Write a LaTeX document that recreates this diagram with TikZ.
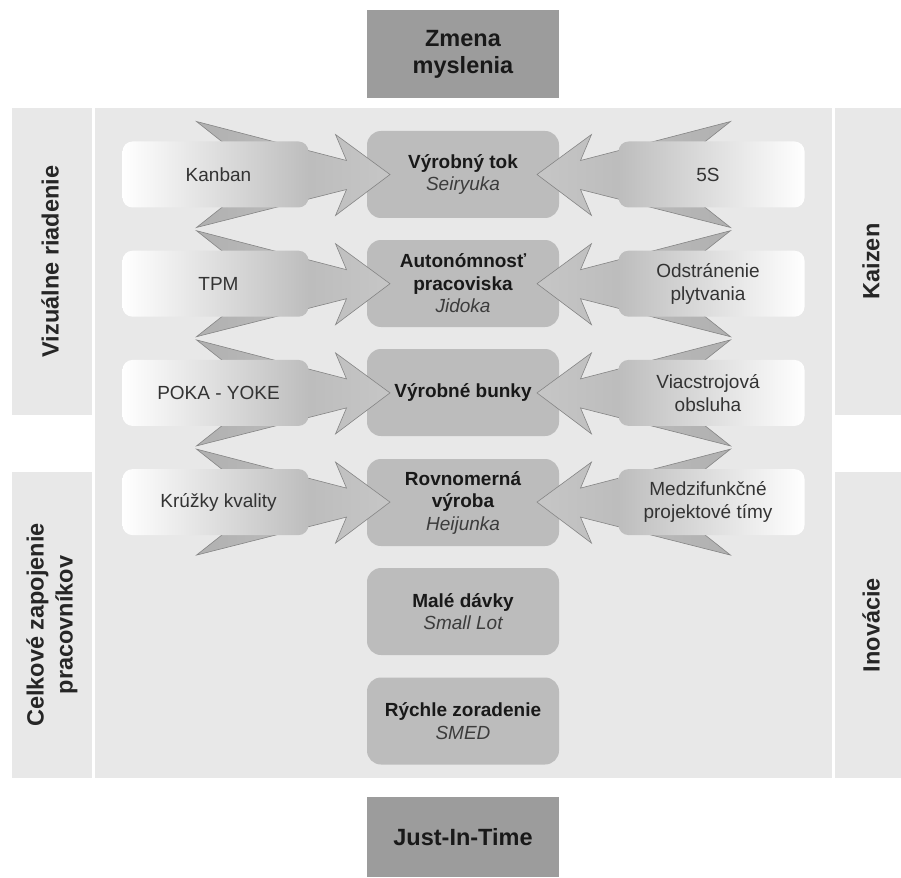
\documentclass[tikz,border=0pt]{standalone}
\usepackage{fontspec}
\setmainfont{Liberation Sans}
\definecolor{panel}{HTML}{E8E8E8}
\definecolor{darkfill}{HTML}{9C9C9C}
\definecolor{midfill}{HTML}{BCBCBC}
\definecolor{arrL}{HTML}{B0B0B0}
\definecolor{arrR}{HTML}{C6C6C6}
\definecolor{boxR}{HTML}{BDBDBD}
\definecolor{edgecol}{HTML}{858585}
\definecolor{txt}{HTML}{333333}
\definecolor{ittxt}{HTML}{3C3C3C}
\begin{document}
\begin{tikzpicture}[x=1pt,y=-1pt,
  darkbox/.style={fill=darkfill,draw=none,minimum width=192pt,inner sep=0pt,align=center,
    font=\fontsize{23.5}{27}\selectfont\bfseries,text=black!90},
  cbox/.style={fill=midfill,draw=none,rounded corners=14pt,minimum width=192pt,minimum height=87pt,
    inner sep=0pt,align=center,font=\fontsize{19}{22.5}\selectfont,text=black!90},
  lbl/.style={align=center,inner sep=0pt,font=\fontsize{19}{23}\selectfont,text=txt},
  vlbl/.style={rotate=90,align=center,inner sep=0pt,font=\fontsize{23.5}{29}\selectfont\bfseries,text=black!85},
  arrowL/.style={left color=arrL,right color=arrR,draw=edgecol,line width=0.6pt,line join=miter},
  arrowR/.style={left color=arrR,right color=arrL,draw=edgecol,line width=0.6pt,line join=miter}
]
\useasboundingbox (0,0) rectangle (901,877);
\fill[white] (0,0) rectangle (901,877);
% panels
\fill[panel] (95,108) rectangle (832,778);
\fill[panel] (12,108) rectangle (92,415);
\fill[panel] (12,472) rectangle (92,778);
\fill[panel] (835,108) rectangle (901,415);
\fill[panel] (835,472) rectangle (901,778);
% top and bottom boxes
\node[darkbox,minimum height=88pt] (top) at (463,54) {Zmena\\myslenia};
\node[darkbox,minimum height=80pt] (bot) at (463,837) {Just-In-Time};
% centre boxes
\node[cbox] (b1) at (463,174.5) {{\bfseries Výrobný tok}\\{\itshape\color{ittxt}Seiryuka}};
\node[cbox] (b2) at (463,283.5) {{\bfseries Autonómnosť}\\{\bfseries pracoviska}\\{\itshape\color{ittxt}Jidoka}};
\node[cbox] (b3) at (463,392.5) {{\bfseries Výrobné bunky}};
\node[cbox] (b4) at (463,502.5) {{\bfseries Rovnomerná}\\{\bfseries výroba}\\{\itshape\color{ittxt}Heijunka}};
\node[cbox] (b5) at (463,611.5) {{\bfseries Malé dávky}\\{\itshape\color{ittxt}Small Lot}};
\node[cbox] (b6) at (463,721) {{\bfseries Rýchle zoradenie}\\{\itshape\color{ittxt}SMED}};
% arrows and light boxes
\foreach \yc in {174.5,283.7,392.9,502.1}{
  \shadedraw[arrowL] (196.5,\yc-53) -- (346.5,\yc-14) -- (335.5,\yc-40) -- (390,\yc)
     -- (335.5,\yc+41) -- (346.5,\yc+15) -- (196.5,\yc+53) -- (263.5,\yc) -- cycle;
  \shadedraw[arrowR] (730.5,\yc-53) -- (580.5,\yc-14) -- (591.5,\yc-40) -- (537,\yc)
     -- (591.5,\yc+41) -- (580.5,\yc+15) -- (730.5,\yc+53) -- (663.5,\yc) -- cycle;
  \shade[rounded corners=10pt,left color=white,right color=boxR] (122.5,\yc-33) rectangle (308.5,\yc+33);
  \shade[rounded corners=10pt,left color=boxR,right color=white] (618.5,\yc-33) rectangle (804.5,\yc+33);
}
% side labels
\node[lbl] (l1) at (218.5,174.5) {Kanban};
\node[lbl] (l2) at (218.5,283.7) {TPM};
\node[lbl] (l3) at (218.5,392.9) {POKA - YOKE};
\node[lbl] (l4) at (218.5,502.1) {Krúžky kvality};
\node[lbl] (r1) at (708,174.5) {5S};
\node[lbl] (r2) at (708,283.7) {Odstránenie\\plytvania};
\node[lbl] (r3) at (708,392.9) {Viacstrojová\\obsluha};
\node[lbl] (r4) at (708,502.1) {Medzifunkčné\\projektové tímy};
% vertical labels
\node[vlbl] (v1) at (50,261.5) {Vizuálne riadenie};
\node[vlbl] (v2) at (52,625) {Celkové zapojenie\\pracovníkov};
\node[vlbl] (v3) at (871,261.5) {Kaizen};
\node[vlbl] (v4) at (871,625) {Inovácie};
\end{tikzpicture}
\end{document}
